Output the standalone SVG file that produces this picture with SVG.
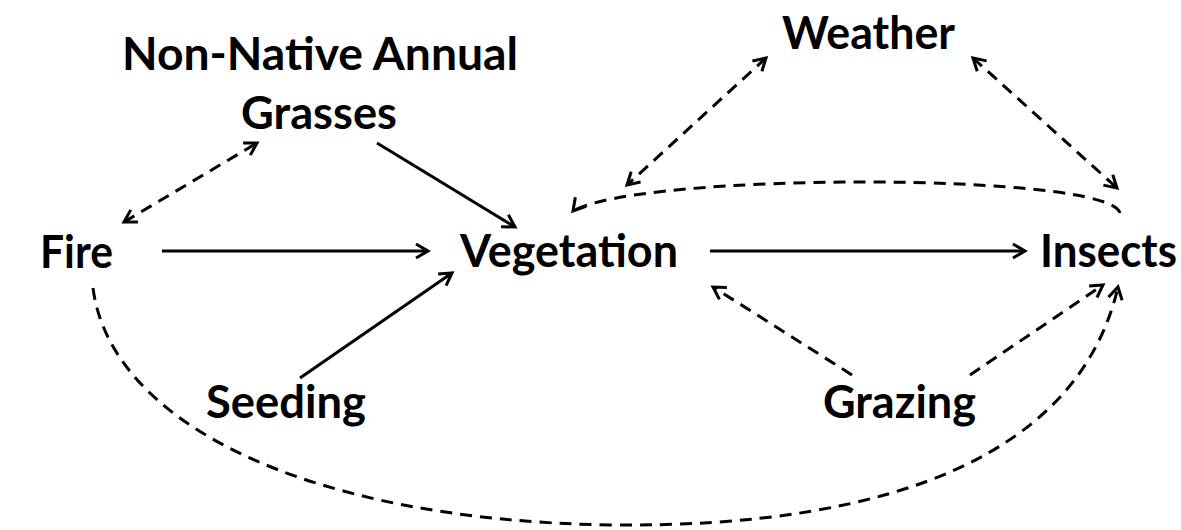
<svg xmlns="http://www.w3.org/2000/svg" width="1181" height="530" viewBox="0 0 1181 530">
<style>
.lbl{font-family:Lato,"Open Sans","Liberation Sans",sans-serif;font-weight:bold;font-size:45px;fill:#000}
.c{fill:none;stroke:#000;stroke-width:3}
.d{stroke-dasharray:12 8}
</style>
<defs>
<marker id="ah" markerUnits="userSpaceOnUse" markerWidth="18" markerHeight="18" viewBox="0 0 18 18" refX="15" refY="9" orient="auto-start-reverse">
<path d="M3,2 L15,9 L3,16" fill="none" stroke="#000" stroke-width="3" stroke-linejoin="miter"/>
</marker>
<marker id="ahdl" markerUnits="userSpaceOnUse" markerWidth="18" markerHeight="18" viewBox="0 0 18 18" refX="15" refY="9" orient="130">
<path d="M3,2 L15,9 L3,16" fill="none" stroke="#000" stroke-width="3" stroke-linejoin="miter"/>
</marker>
</defs>
<rect width="1181" height="530" fill="#fff"/>
<g id="connectors">
<path class="c" d="M162,251 L428,251" marker-end="url(#ah)"/>
<path class="c" d="M377,143 L515,227" marker-end="url(#ah)"/>
<path class="c" d="M300,378 L452,273" marker-end="url(#ah)"/>
<path class="c" d="M710,251 L1025,251" marker-end="url(#ah)"/>
<path class="c d" d="M124,222 L257,143" marker-start="url(#ah)" marker-end="url(#ah)"/>
<path class="c d" d="M766,58 L627,185" marker-start="url(#ah)" marker-end="url(#ah)"/>
<path class="c d" d="M973,58 L1117,188" marker-start="url(#ah)" marker-end="url(#ah)"/>
<path class="c d" d="M1120,213 C1110,172 640,172 573,211" marker-end="url(#ahdl)"/>
<path class="c d" d="M852,375 L713,287" marker-end="url(#ah)"/>
<path class="c d" d="M970,375 L1103,285" marker-end="url(#ah)"/>
<path class="c d" d="M93,288 C110,420 300,520 610,525 C900,528 1080,450 1118,287" marker-end="url(#ah)"/>
</g>
<g id="grasses"><text class="lbl" x="122" y="70" textLength="396" lengthAdjust="spacingAndGlyphs">Non-Native Annual</text><text class="lbl" x="241" y="129" textLength="156" lengthAdjust="spacingAndGlyphs">Grasses</text></g>
<g id="weather"><text class="lbl" x="782" y="49" textLength="173" lengthAdjust="spacingAndGlyphs">Weather</text></g>
<g id="fire"><text class="lbl" x="40" y="268" textLength="73" lengthAdjust="spacingAndGlyphs">Fire</text></g>
<g id="vegetation"><text class="lbl" x="460" y="267" textLength="218" lengthAdjust="spacingAndGlyphs">Vegetation</text></g>
<g id="insects"><text class="lbl" x="1040" y="267" textLength="137" lengthAdjust="spacingAndGlyphs">Insects</text></g>
<g id="seeding"><text class="lbl" x="206" y="418" textLength="160" lengthAdjust="spacingAndGlyphs">Seeding</text></g>
<g id="grazing"><text class="lbl" x="823" y="418" textLength="153" lengthAdjust="spacingAndGlyphs">Grazing</text></g>
</svg>
